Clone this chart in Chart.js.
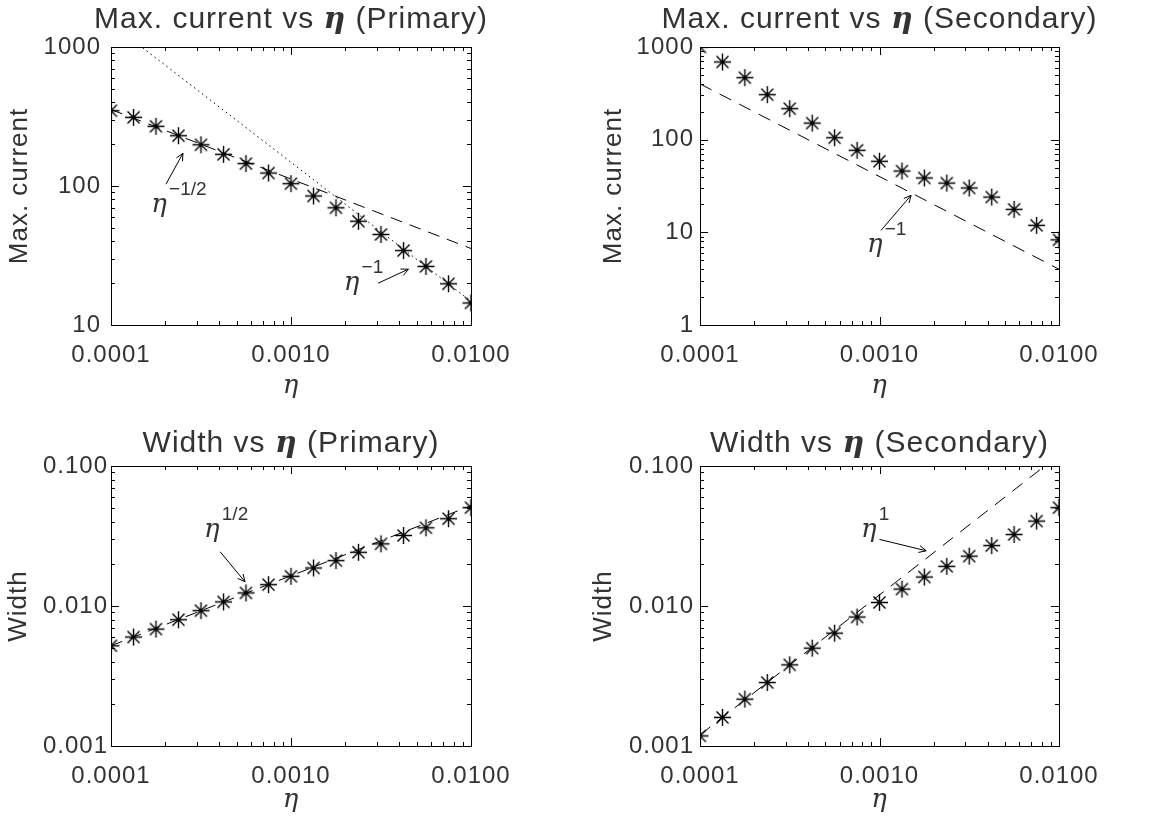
<!DOCTYPE html>
<html>
<head>
<meta charset="utf-8">
<script src="https://cdn.jsdelivr.net/npm/chart.js@4.4.1/dist/chart.umd.min.js"></script>
<style>
  html, body { margin: 0; padding: 0; background: #fff; }
  body { width: 1156px; height: 817px; position: relative; overflow: hidden; }
  canvas { position: absolute; }
</style>
</head>
<body>
<canvas id="c1" width="578" height="408" style="left:0;top:0"></canvas>
<canvas id="c2" width="578" height="408" style="left:578px;top:0"></canvas>
<canvas id="c3" width="578" height="409" style="left:0;top:408px"></canvas>
<canvas id="c4" width="578" height="409" style="left:578px;top:408px"></canvas>
<script>
// eta values (8 per decade)
var eta = [1.000e-4, 1.334e-4, 1.778e-4, 2.371e-4, 3.162e-4, 4.217e-4, 5.623e-4, 7.499e-4,
           1.000e-3, 1.334e-3, 1.778e-3, 2.371e-3, 3.162e-3, 4.217e-3, 5.623e-3, 7.499e-3, 1.000e-2];

var currentPrimary   = [348, 312, 269, 230, 198, 169, 145, 124, 104, 84.8, 69.7, 55.8, 44.8, 34.3, 26.4, 19.8, 14.4];
var currentSecondary = [1000, 689, 467, 306, 216, 151, 105, 76.8, 58.4, 45.9, 38.6, 34.0, 30.1, 24.0, 17.7, 11.9, 8.3];
var widthPrimary     = [0.0052, 0.0060, 0.00684, 0.00798, 0.00926, 0.0107, 0.0124, 0.0142, 0.0163,
                        0.0187, 0.0211, 0.0242, 0.0278, 0.0319, 0.0362, 0.0420, 0.0504];
var widthSecondary   = [0.00118, 0.0016, 0.00216, 0.00284, 0.0038, 0.0050, 0.0064, 0.00834, 0.0106,
                        0.0132, 0.0161, 0.0192, 0.0227, 0.0270, 0.0324, 0.0404, 0.0504];

// power-law guide lines, value at eta = 1e-4 and 1e-2
var fitEnds          = [1e-4, 1e-2];
var fitCurPriHalf    = [355, 35.5];    // eta^-1/2
var fitCurPriOne     = [1480, 14.8];   // eta^-1
var fitCurSecOne     = [400, 4];       // eta^-1
var fitWidPriHalf    = [0.0052, 0.052];// eta^1/2
var fitWidSecOne     = [0.0012, 0.12]; // eta^1

// axis ticks
var xTicks      = [1e-4, 1e-3, 1e-2];
var xTickLabels = ['0.0001', '0.0010', '0.0100'];
var yTicksCurP  = [10, 100, 1000];
var yLabelsCurP = ['10', '100', '1000'];
var yTicksCurS  = [1, 10, 100, 1000];
var yLabelsCurS = ['1', '10', '100', '1000'];
var yTicksW     = [0.001, 0.01, 0.1];
var yLabelsW    = ['0.001', '0.010', '0.100'];

// annotations (data coords): [x, y, superscript] and arrows [x0, y0, x1, y1]
var notesCurP = { labels: [[1.85e-4, 73, '\u22121/2'], [2.17e-3, 20.0, '\u22121']],
                  arrows: [[2.02e-4, 103, 2.51e-4, 172], [3.05e-3, 20.0, 4.49e-3, 25.2]] };
var notesCurS = { labels: [[9.4e-4, 7.26, '\u22121']],
                  arrows: [[1.02e-3, 10.5, 1.50e-3, 25.1]] };
var notesWP   = { labels: [[3.63e-4, 0.0349, '1/2']],
                  arrows: [[4.04e-4, 0.0244, 5.55e-4, 0.0149]] };
var notesWS   = { labels: [[8.71e-4, 0.0349, '1']],
                  arrows: [[1.0e-3, 0.0299, 1.82e-3, 0.0248]] };

var SANS = '"Liberation Sans", Arial, sans-serif';
var SERIF = '"DejaVu Serif", "Liberation Serif", serif';
var INK = '#333';

// asterisk marker with a dot in the middle
var star = document.createElement('canvas');
star.width = 19; star.height = 19;
(function () {
  var g = star.getContext('2d');
  var c = 9.5, r = 8.5, d = r * Math.SQRT1_2;
  g.strokeStyle = '#000'; g.lineWidth = 1.4;
  g.beginPath();
  g.moveTo(c - r, c); g.lineTo(c + r, c);
  g.moveTo(c, c - r); g.lineTo(c, c + r);
  g.moveTo(c - d, c - d); g.lineTo(c + d, c + d);
  g.moveTo(c - d, c + d); g.lineTo(c + d, c - d);
  g.stroke();
  g.fillStyle = '#000';
  g.beginPath(); g.arc(c, c, 1.8, 0, Math.PI * 2); g.fill();
})();

function pts(xs, ys) { return xs.map(function (x, i) { return { x: x, y: ys[i] }; }); }

// slightly spaced lettering, like the original plot font
var spacing = {
  id: 'spacing',
  beforeDraw: function (chart) { chart.ctx.letterSpacing = '1px'; }
};

// box with inward ticks on all four sides
var frame = {
  id: 'frame',
  afterDatasetsDraw: function (chart) {
    var ctx = chart.ctx, a = chart.chartArea, sx = chart.scales.x, sy = chart.scales.y;
    ctx.save();
    ctx.strokeStyle = '#000';
    ctx.lineWidth = 1;
    ctx.strokeRect(Math.round(a.left) + 0.5, Math.round(a.top) + 0.5,
                   Math.round(a.right - a.left), Math.round(a.bottom - a.top));
    function each(sc, fn) {
      var lo = Math.floor(Math.log10(sc.min) + 1e-9), hi = Math.ceil(Math.log10(sc.max) - 1e-9);
      for (var d = lo; d <= hi; d++) {
        for (var m = 1; m <= 9; m++) {
          var v = m * Math.pow(10, d);
          if (v < sc.min * 0.999 || v > sc.max * 1.001) continue;
          fn(sc.getPixelForValue(v), m === 1 ? 8 : 4);
        }
      }
    }
    ctx.beginPath();
    each(sx, function (p, len) {
      p = Math.round(p) + 0.5;
      ctx.moveTo(p, a.bottom); ctx.lineTo(p, a.bottom - len);
      ctx.moveTo(p, a.top); ctx.lineTo(p, a.top + len);
    });
    each(sy, function (p, len) {
      p = Math.round(p) + 0.5;
      ctx.moveTo(a.left, p); ctx.lineTo(a.left + len, p);
      ctx.moveTo(a.right, p); ctx.lineTo(a.right - len, p);
    });
    ctx.stroke();
    ctx.restore();
  }
};

// title with a bold italic eta, plus eta^n labels and arrows
var notes = {
  id: 'notes',
  afterDraw: function (chart, args, o) {
    var ctx = chart.ctx, a = chart.chartArea, sx = chart.scales.x, sy = chart.scales.y;
    ctx.save();
    ctx.fillStyle = INK;
    ctx.textBaseline = 'alphabetic';
    ctx.letterSpacing = '1px';
    // title
    var f1 = '30px ' + SANS, f2 = 'bold italic 30px ' + SERIF;
    ctx.font = f1; var w1 = ctx.measureText(o.title[0]).width, w3 = ctx.measureText(o.title[1]).width;
    ctx.font = f2; var w2 = ctx.measureText('\u03b7').width;
    var x = (a.left + a.right) / 2 - (w1 + w2 + w3) / 2;
    ctx.textAlign = 'left';
    ctx.font = f1; ctx.fillText(o.title[0], x, o.titleY);
    ctx.font = f2; ctx.fillText('\u03b7', x + w1, o.titleY);
    ctx.font = f1; ctx.fillText(o.title[1], x + w1 + w2, o.titleY);
    // labels
    ctx.letterSpacing = '0px';
    (o.labels || []).forEach(function (l) {
      var px = sx.getPixelForValue(l[0]), py = sy.getPixelForValue(l[1]);
      ctx.font = 'italic 26px ' + SERIF;
      ctx.textAlign = 'center'; ctx.textBaseline = 'middle';
      ctx.fillText('\u03b7', px, py);
      ctx.font = '19px ' + SANS;
      ctx.textAlign = 'left';
      ctx.fillText(l[2], px + 10, py - 15);
    });
    // arrows
    ctx.strokeStyle = '#000'; ctx.lineWidth = 1;
    (o.arrows || []).forEach(function (r) {
      var x0 = sx.getPixelForValue(r[0]), y0 = sy.getPixelForValue(r[1]);
      var x1 = sx.getPixelForValue(r[2]), y1 = sy.getPixelForValue(r[3]);
      var ang = Math.atan2(y1 - y0, x1 - x0), h = 8, s = 0.45;
      ctx.beginPath();
      ctx.moveTo(x0, y0); ctx.lineTo(x1, y1);
      ctx.moveTo(x1 - h * Math.cos(ang - s), y1 - h * Math.sin(ang - s));
      ctx.lineTo(x1, y1);
      ctx.lineTo(x1 - h * Math.cos(ang + s), y1 - h * Math.sin(ang + s));
      ctx.stroke();
    });
    ctx.restore();
  }
};

function makePanel(id, cfg) {
  var datasets = [{
    data: pts(eta, cfg.values),
    pointStyle: star, pointRadius: 9, pointHoverRadius: 9,
    showLine: false, clip: 0
  }];
  cfg.fits.forEach(function (f) {
    datasets.push({
      data: pts(fitEnds, f.values),
      showLine: true, pointRadius: 0, borderColor: '#000', borderWidth: 1,
      borderDash: f.dash, clip: 0
    });
  });
  new Chart(document.getElementById(id), {
    type: 'scatter',
    data: { datasets: datasets },
    options: {
      responsive: false,
      animation: false,
      events: [],
      layout: { padding: { left: 0, right: cfg.padRight, top: cfg.padTop, bottom: 0 } },
      plugins: {
        legend: { display: false },
        tooltip: { enabled: false },
        notes: { title: cfg.title, titleY: cfg.titleY, labels: cfg.notes.labels, arrows: cfg.notes.arrows }
      },
      scales: {
        x: {
          type: 'logarithmic', min: 1e-4, max: 1e-2,
          grid: { display: false, drawTicks: false },
          border: { display: false },
          afterBuildTicks: function (s) { s.ticks = xTicks.map(function (v) { return { value: v }; }); },
          afterFit: function (s) { s.height = cfg.xHeight; },
          ticks: {
            autoSkip: false, maxRotation: 0, padding: 16,
            color: INK, font: { family: SANS, size: 24 },
            callback: function (v, i) { return xTickLabels[i]; }
          },
          title: { display: true, text: '\u03b7', color: INK,
                   font: { family: SERIF, size: 26, style: 'italic' },
                   padding: { top: 0, bottom: cfg.xTitlePad } }
        },
        y: {
          type: 'logarithmic', min: cfg.yTicks[0], max: cfg.yTicks[cfg.yTicks.length - 1],
          grid: { display: false, drawTicks: false },
          border: { display: false },
          afterBuildTicks: function (s) { s.ticks = cfg.yTicks.map(function (v) { return { value: v }; }); },
          afterFit: function (s) { s.width = cfg.yWidth; },
          ticks: {
            autoSkip: false, padding: cfg.yPad,
            color: INK, font: { family: SANS, size: 24 },
            callback: function (v, i) { return cfg.yLabels[i]; }
          },
          title: { display: true, text: cfg.yTitle, color: INK,
                   font: { family: SANS, size: 26 },
                   padding: { top: cfg.yTitlePad, bottom: 0 } }
        }
      }
    },
    plugins: [spacing, frame, notes]
  });
}

makePanel('c1', {
  values: currentPrimary,
  fits: [{ values: fitCurPriHalf, dash: [12, 8] }, { values: fitCurPriOne, dash: [1.5, 3.5] }],
  yTicks: yTicksCurP, yLabels: yLabelsCurP, yTitle: 'Max. current',
  title: ['Max. current vs ', ' (Primary)'], titleY: 28,
  notes: notesCurP,
  padTop: 47, padRight: 107, yWidth: 111, xHeight: 83, yPad: 10, yTitlePad: 4, xTitlePad: 6
});
makePanel('c2', {
  values: currentSecondary,
  fits: [{ values: fitCurSecOne, dash: [13, 9] }],
  yTicks: yTicksCurS, yLabels: yLabelsCurS, yTitle: 'Max. current',
  title: ['Max. current vs ', ' (Secondary)'], titleY: 28,
  notes: notesCurS,
  padTop: 47, padRight: 97, yWidth: 122, xHeight: 83, yPad: 6, yTitlePad: 20, xTitlePad: 6
});
makePanel('c3', {
  values: widthPrimary,
  fits: [{ values: fitWidPriHalf, dash: [12, 8] }],
  yTicks: yTicksW, yLabels: yLabelsW, yTitle: 'Width',
  title: ['Width vs ', ' (Primary)'], titleY: 44,
  notes: notesWP,
  padTop: 58, padRight: 107, yWidth: 111, xHeight: 71, yPad: 3, yTitlePad: 3, xTitlePad: 1
});
makePanel('c4', {
  values: widthSecondary,
  fits: [{ values: fitWidSecOne, dash: [13, 9] }],
  yTicks: yTicksW, yLabels: yLabelsW, yTitle: 'Width',
  title: ['Width vs ', ' (Secondary)'], titleY: 44,
  notes: notesWS,
  padTop: 58, padRight: 97, yWidth: 122, xHeight: 71, yPad: 6, yTitlePad: 10, xTitlePad: 1
});
</script>
</body>
</html>
